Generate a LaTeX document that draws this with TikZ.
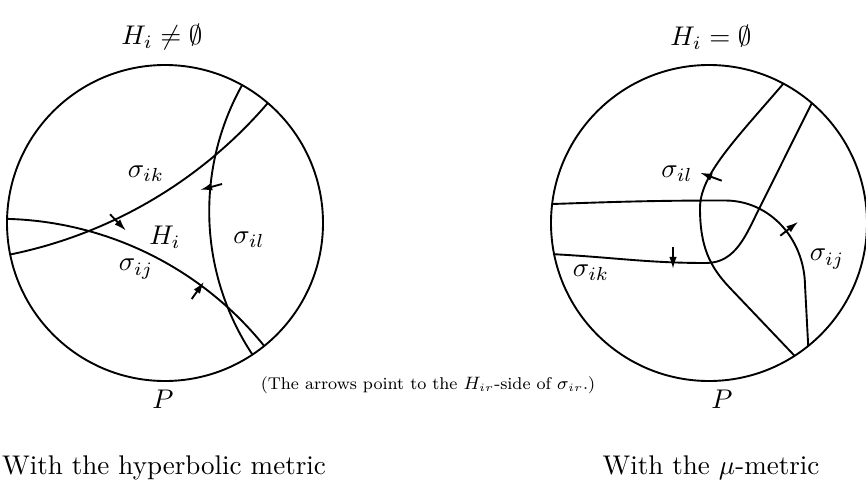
\documentclass[tikz,border=0pt]{standalone}
\usepackage{amsmath, amssymb}
\usepackage{tikz}
\usetikzlibrary{arrows.meta, calc}
% hyperbolic geodesic between two boundary angles of the disc (centre #1)
\newcommand{\geodesic}[3]{%
  \pgfmathsetmacro\geoM{(#2+#3)/2}%
  \pgfmathsetmacro\geoH{(#3-#2)/2}%
  \pgfmathsetmacro\geoD{\rad/cos(\geoH)}%
  \pgfmathsetmacro\geoR{\rad*tan(\geoH)}%
  \pgfmathsetmacro\geoS{\geoM+90+\geoH}%
  \pgfmathsetmacro\geoE{\geoM+270-\geoH}%
  \draw[curve] (#1) ++(\geoM:\geoD) ++(\geoS:\geoR)
    arc[start angle=\geoS, end angle=\geoE, radius=\geoR];}

\begin{document}
\begin{tikzpicture}[
        x=0.37pt, y=0.37pt, >={Latex[length=4.5pt, width=2.8pt]},
        curve/.style={line width=0.7pt},
        side/.style={line width=0.7pt, ->},
        lab/.style={inner sep=0pt},
      ]
        \useasboundingbox (0,0) rectangle (866,485);
        \def\rad{158}
        \coordinate (OL) at (165,262);
        \coordinate (OR) at (709,262);
        % hyperbolic metric
        \draw[curve] (OL) circle[radius=\rad];
        \geodesic{OL}{-56.4}{60.8}
        \geodesic{OL}{49.4}{191.5}
        \geodesic{OL}{178.5}{308.9}
        \draw[side] (222,301) -- (200,295);
        \draw[side] (110,270.7) -- (126,254.3);
        \draw[side] (191.7,186) -- (204,203.3);
        \node[lab] (sikL) at (146,311) {$\sigma_{ik}$};
        \node[lab] (HiL) at (165,248) {$H_i$};
        \node[lab] (sijL) at (136,216) {$\sigma_{ij}$};
        \node[lab] (silL) at (249,245) {$\sigma_{il}$};
        \node (tL) at (162,448) {$H_i \neq \emptyset$};
        \node (PL) at (163,86) {$P$};
        \node (capL) at (164,17) {With the hyperbolic metric};
        % mu-metric
        \draw[curve] (OR) circle[radius=\rad];
        \draw[curve] ($(OR)+(61.9:\rad)$) .. controls (735,345) and (700,310) .. (700,277)
          .. controls (700,238) and (710,218) .. (730,197) -- ($(OR)+(-57.2:\rad)$);
        \draw[curve] ($(OR)+(191.4:\rad)$) to[out=-3, in=180] (706,222)
          to[out=0, in=243] (760,278) -- ($(OR)+(49.4:\rad)$);
        \draw[curve] ($(OR)+(173.1:\rad)$) to[out=2, in=180] (725,284.5)
          to[out=0, in=91] (805,200) -- ($(OR)+(-51.1:\rad)$);
        \draw[side] (721.7,304.3) -- (700,312.3);
        \draw[side] (673,238) -- (673,216);
        \draw[side] (780.3,249.3) -- (798.3,263.3);
        \node[lab] (silR) at (677,311) {$\sigma_{il}$};
        \node[lab] (sikR) at (591,212) {$\sigma_{ik}$};
        \node[lab] (sijR) at (827,226) {$\sigma_{ij}$};
        \node (tR) at (711,448) {$H_i = \emptyset$};
        \node (PR) at (722,86) {$P$};
        \node (capR) at (711,17) {With the $\mu$-metric};
        % note
        \node (note) at (428,100) {\scalebox{0.83}{\fontsize{7.6}{9}\selectfont (The arrows point to the $H_{ir}$-side of $\sigma_{ir}$.)}};
      \end{tikzpicture}
\end{document}
